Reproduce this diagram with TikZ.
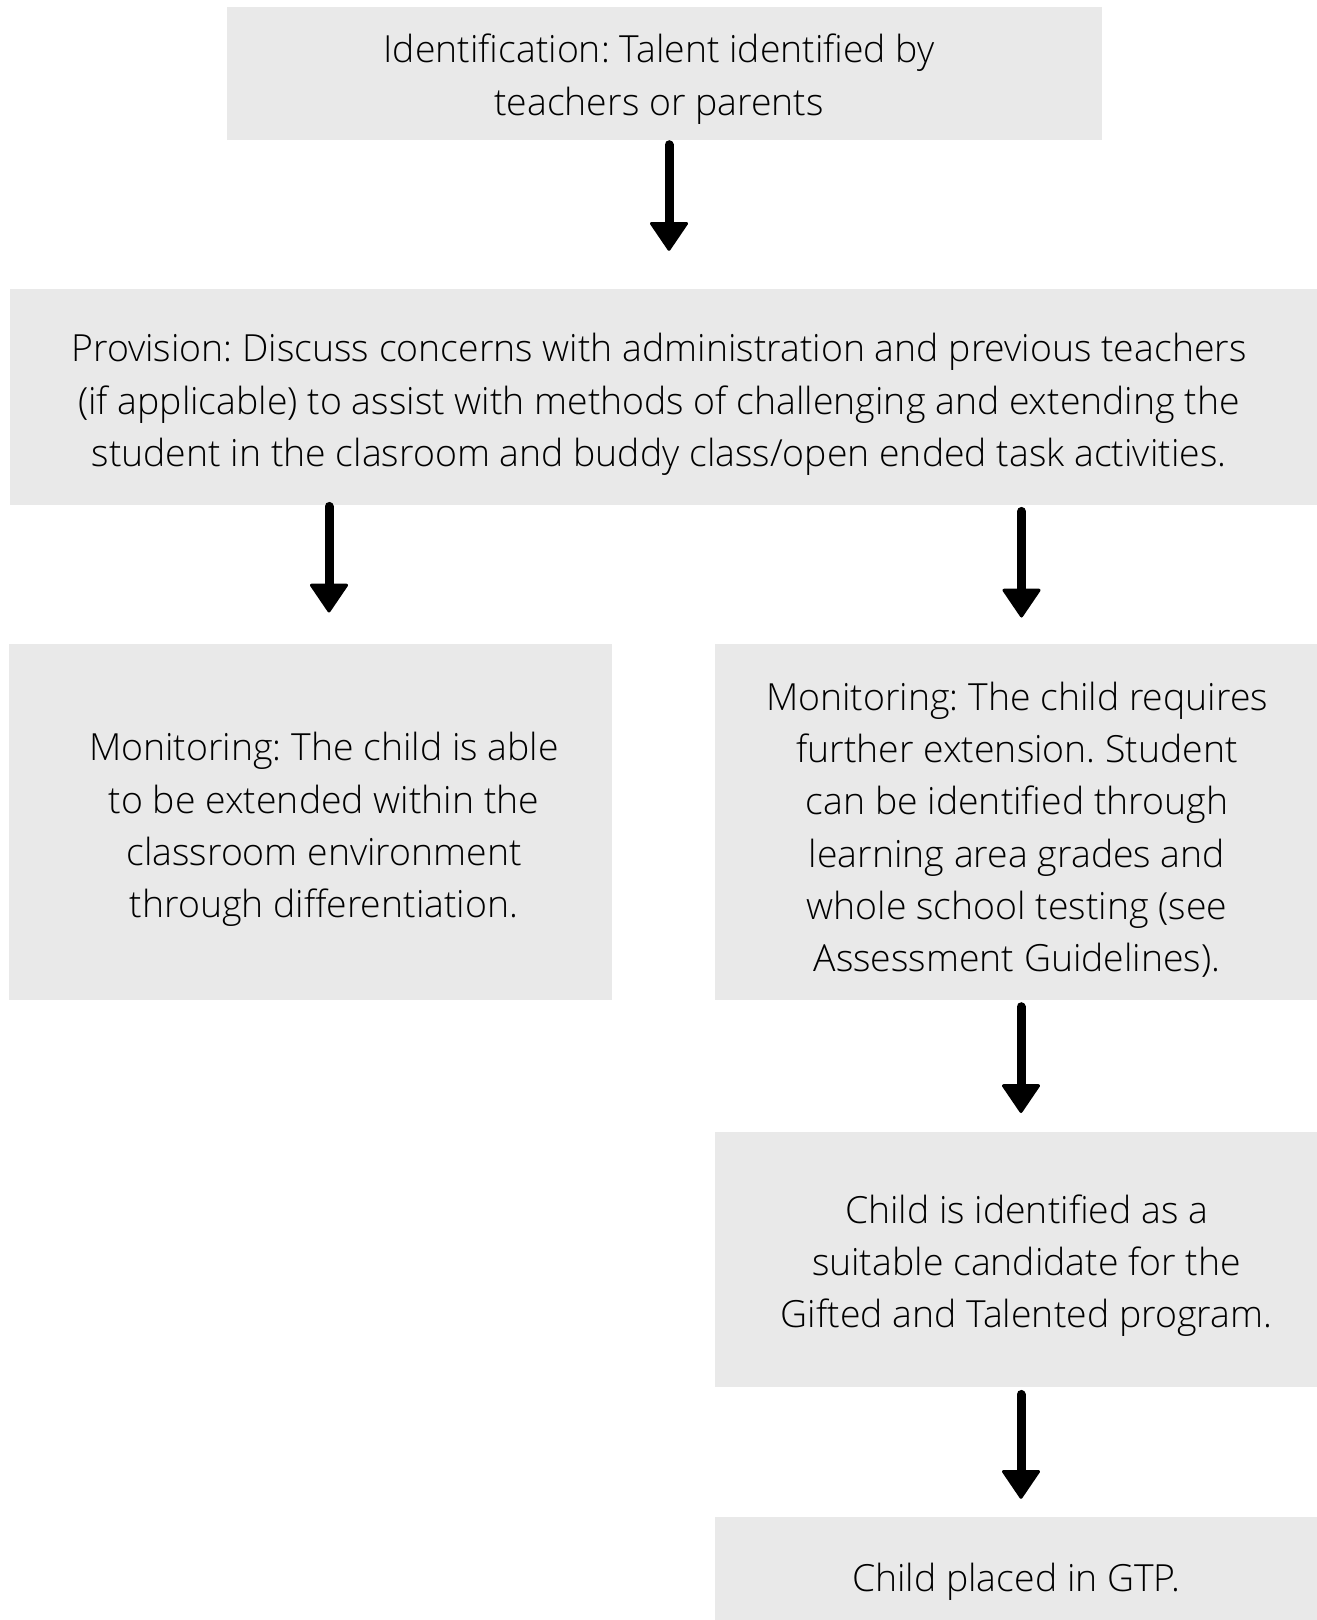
\documentclass[tikz,border=0pt]{standalone}
\usepackage{fontspec}
\setmainfont{Open Sans Light}
\usetikzlibrary{arrows.meta}
\definecolor{boxgray}{HTML}{E9E9E9}
\newcommand\mystrut{\rule[-11.6pt]{0pt}{52.3pt}}
\frenchspacing
\tikzset{
  box/.style={fill=boxgray, draw=none, inner sep=0pt, anchor=center},
  txt/.style={align=center, inner sep=0pt, text=black, anchor=center,
    font=\fontsize{37.4pt}{52.3pt}\selectfont\frenchspacing,
    execute at begin node=\mystrut, execute at end node=\mystrut},
  arr/.style={line width=9pt, line cap=round, draw=black,
    -{Triangle[width=40pt,length=30pt,line width=3pt,round]}}
}
\begin{document}
\begin{tikzpicture}[x=1pt,y=-1pt]
\useasboundingbox (0,0) rectangle (1317,1620);
\clip (0,0) rectangle (1317,1620);
% boxes
\node[box, minimum width=875pt, minimum height=133pt] (b1) at (664.5,73.5) {};
\node[box, minimum width=1307pt, minimum height=216pt] (b2) at (663.5,397) {};
\node[box, minimum width=603pt, minimum height=356pt] (b3) at (310.5,822) {};
\node[box, minimum width=602pt, minimum height=356pt] (b4) at (1016,822) {};
\node[box, minimum width=602pt, minimum height=255pt] (b5) at (1016,1259.7) {};
\node[box, minimum width=602pt, minimum height=115.3pt] (b6) at (1016,1574.35) {};
% texts
\node[txt] (t1) at (659,80.5) {Identification: Talent identified by\\teachers or parents};
\node[txt] (t2) at (659,405.6) {Provision: Discuss concerns with administration and previous teachers\\(if applicable) to assist with methods of challenging and extending the\\student in the clasroom and buddy class/open ended task activities.};
\node[txt] (t3) at (324,831) {Monitoring: The child is able\\to be extended within the\\classroom environment\\through differentiation.};
\node[txt] (t4) at (1017,832.7) {Monitoring: The child requires\\further extension. Student\\can be identified through\\learning area grades and\\whole school testing (see\\Assessment Guidelines).};
\node[txt] (t5) at (1026.5,1266.8) {Child is identified as a\\suitable candidate for the\\Gifted and Talented program.};
\node[txt] (t6) at (1016,1577) {Child placed in GTP.};
% connectors
\draw[arr] ([xshift=4.5pt,yshift=-4.5pt]b1.south) -- ([xshift=5.5pt,yshift=38pt]b2.north);
\draw[arr] ([yshift=-1.2pt]b2.south -| b3.north) ++(18.5pt,0) coordinate (s3) -- ([xshift=18.5pt,yshift=31.3pt]b3.north);
\draw[arr] ([yshift=-6.2pt]b2.south -| b4.north) ++(5.5pt,0) coordinate (s4) -- ([xshift=5.5pt,yshift=26.3pt]b4.north);
\draw[arr] ([xshift=5pt,yshift=-6.5pt]b4.south) -- ([xshift=5pt,yshift=19pt]b5.north);
\draw[arr] ([xshift=5pt,yshift=-7pt]b5.south) -- ([xshift=5pt,yshift=17.7pt]b6.north);
\end{tikzpicture}
\end{document}
